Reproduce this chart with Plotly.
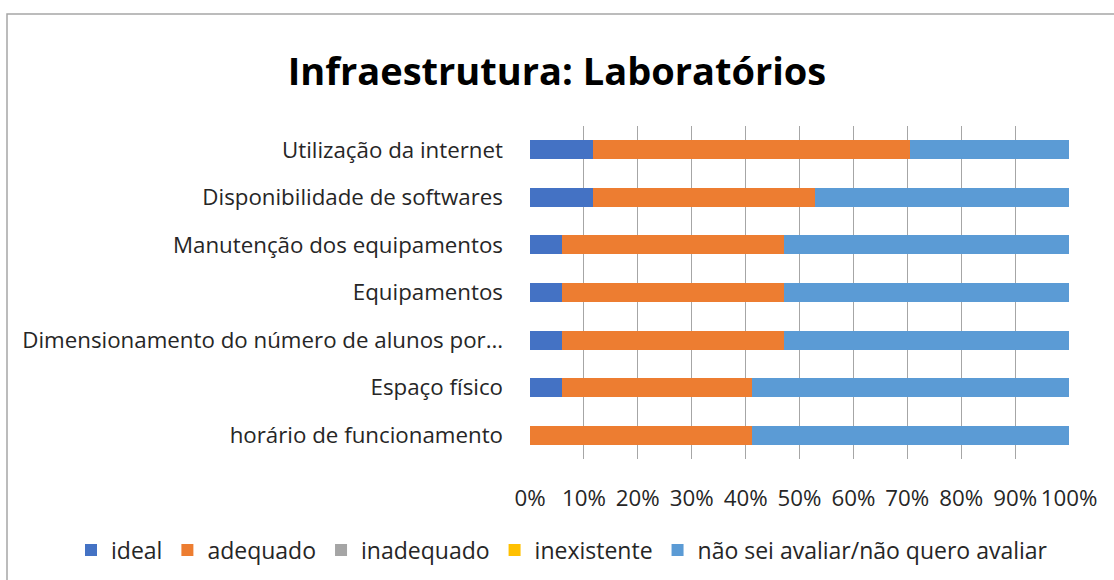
import plotly.graph_objects as go

categories = [
    "Utilização da internet",
    "Disponibilidade de softwares",
    "Manutenção dos equipamentos",
    "Equipamentos",
    "Dimensionamento do número de alunos por…",
    "Espaço físico",
    "horário de funcionamento",
]
ideal = [11.76, 11.76, 5.88, 5.88, 5.88, 5.88, 0]
adequado = [58.83, 41.18, 41.18, 41.18, 41.18, 35.29, 41.18]
inadequado = [0, 0, 0, 0, 0, 0, 0]
inexistente = [0, 0, 0, 0, 0, 0, 0]
nao_sei = [29.41, 47.06, 52.94, 52.94, 52.94, 58.83, 58.82]
x_tickvals = [0, 10, 20, 30, 40, 50, 60, 70, 80, 90, 100]
x_ticktext = ["0%", "10%", "20%", "30%", "40%", "50%", "60%", "70%", "80%", "90%", "100%"]

series = [
    ("ideal", ideal, "#4472C4"),
    ("adequado", adequado, "#ED7D31"),
    ("inadequado", inadequado, "#A5A5A5"),
    ("inexistente", inexistente, "#FFC000"),
    ("não sei avaliar/não quero avaliar", nao_sei, "#5B9BD5"),
]

FONT = "Open Sans"
TXT = "#262626"
FS = 22.3
fig = go.Figure()
for name, vals, color in series:
    fig.add_trace(go.Bar(
        y=categories, x=vals, name=name, orientation="h",
        marker=dict(color=color, line=dict(width=0)),
        hoverinfo="name+x",
    ))

fig.update_layout(
    width=1114, height=580,
    barmode="stack", bargap=0.6,
    paper_bgcolor="white", plot_bgcolor="white",
    margin=dict(l=530, r=45, t=126, b=121, autoexpand=False),
    font=dict(family=FONT, size=FS, color=TXT),
    title=dict(text="<b>Infraestrutura: Laboratórios</b>", x=0.5, xanchor="center",
               y=1 - 72 / 580, yanchor="middle",
               font=dict(family=FONT, size=38, color="#000000")),
    legend=dict(orientation="h", x=(71 - 530) / 539, xanchor="left",
                y=(459 - 550) / 333, yanchor="middle",
                bgcolor="rgba(0,0,0,0)",
                font=dict(family=FONT, size=23, color=TXT),
                itemwidth=30, traceorder="normal"),
    xaxis=dict(range=[0, 100], tickvals=x_tickvals, ticktext=x_ticktext,
               showgrid=True, gridcolor="#A6A6A6", gridwidth=1,
               zeroline=False, showline=False, ticks="", automargin=False,
               ticklabelstandoff=24,
               tickfont=dict(family=FONT, size=FS, color=TXT)),
    yaxis=dict(autorange="reversed", showgrid=False, ticks="", automargin=False,
               ticklabelstandoff=26,
               tickfont=dict(family=FONT, size=FS, color=TXT)),
    shapes=[dict(type="rect", xref="paper", yref="paper",
                 x0=(7 - 530) / 539, x1=1.2, y0=-0.6, y1=(459 - 14) / 333,
                 line=dict(color="#A6A6A6", width=1.5), fillcolor="rgba(0,0,0,0)",
                 layer="below")],
)

fig.write_html("out.html", config={"displayModeBar": False},
               post_script="document.body.style.margin='0';")
